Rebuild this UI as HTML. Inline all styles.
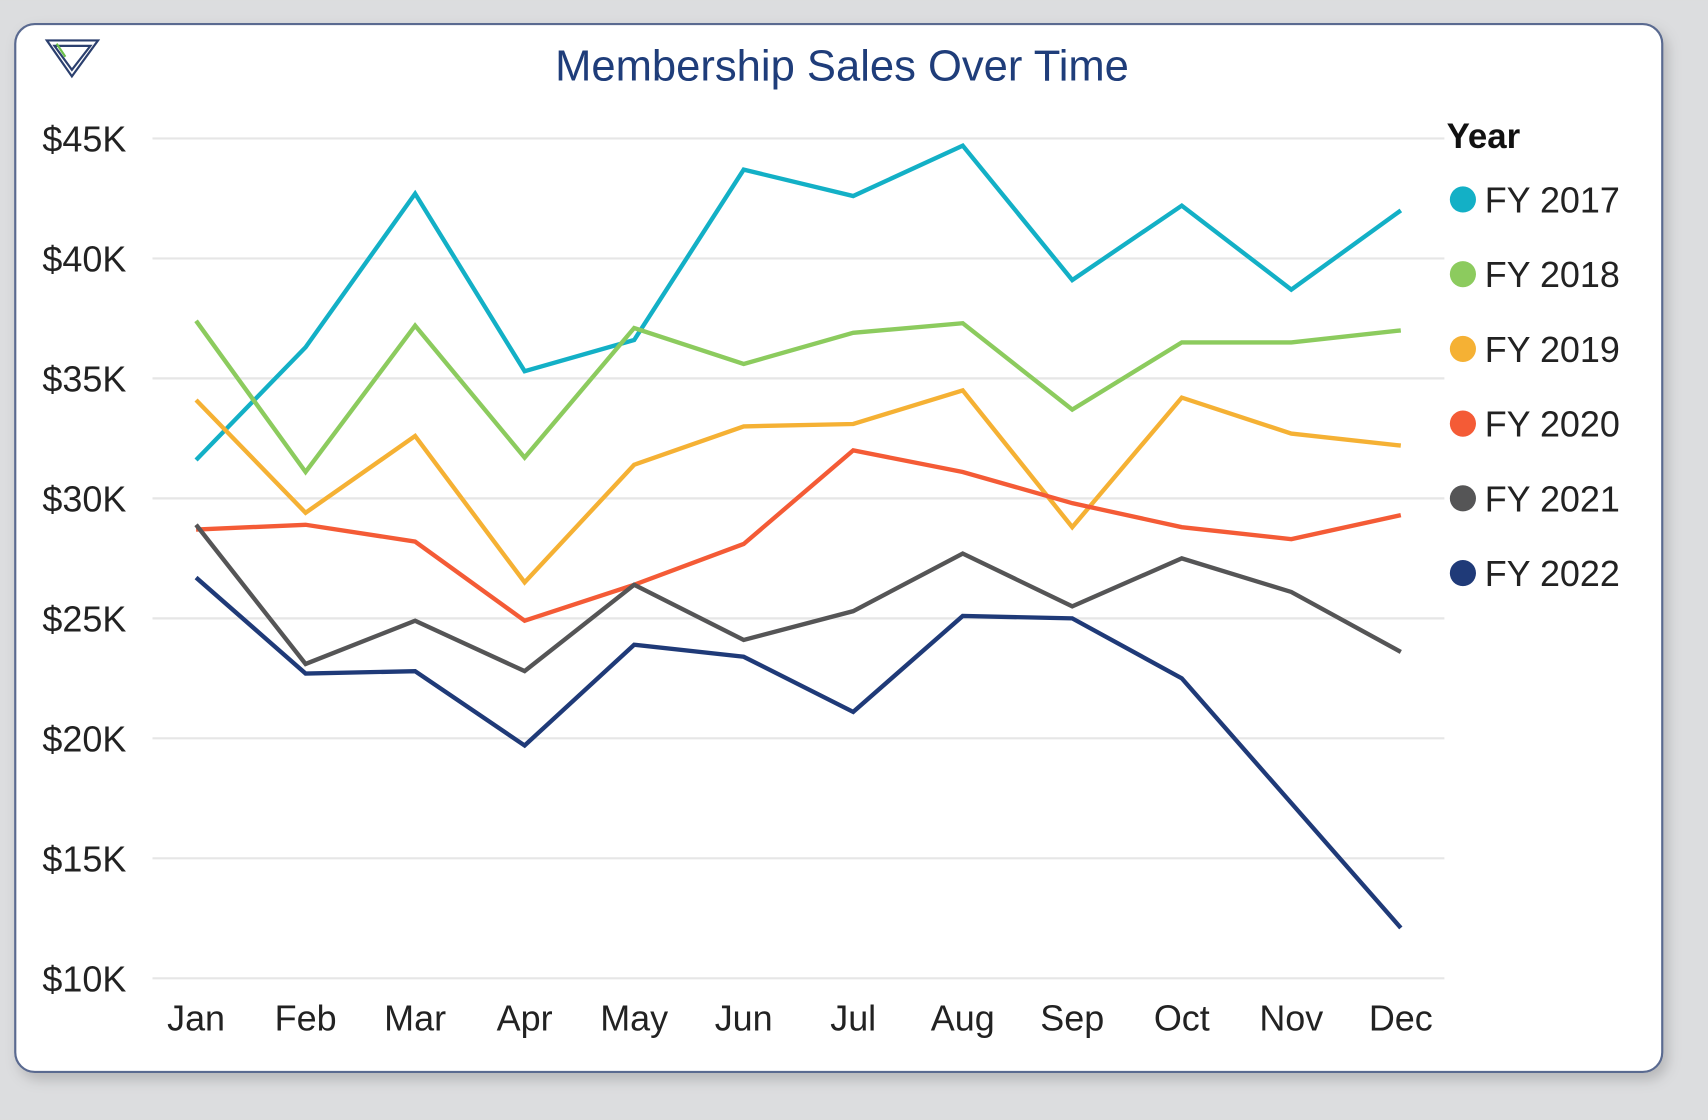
<!DOCTYPE html>
<html><head><meta charset="utf-8"><style>
html,body{margin:0;padding:0;background:#dcdddf;width:1708px;height:1120px;overflow:hidden}
svg{display:block;font-family:"Liberation Sans",sans-serif}
</style></head><body>
<svg id="chart" width="1708" height="1120" viewBox="0 0 1568 1028">
<defs><filter id="sh" x="-5%" y="-5%" width="110%" height="115%"><feDropShadow dx="4" dy="6" stdDeviation="6" flood-color="#000" flood-opacity="0.18"/></filter></defs>
<rect x="0" y="0" width="1568" height="1028" fill="#dcdddf"/>
<rect x="14" y="22" width="1512" height="962" rx="18" fill="#fff" stroke="#5a6a90" stroke-width="2" filter="url(#sh)"/>
<g fill="none" stroke="#2b3f6e" stroke-width="2">
<polygon points="43,37 90,37 66,70"/><polygon points="50,42 83,42 66,64"/><path d="M52,40 L60,52" stroke="#6cc04a"/>
</g>
<text x="773" y="74" text-anchor="middle" font-size="40" fill="#1f3d7a">Membership Sales Over Time</text>
<g id="grid"></g><g id="lines"></g><g id="legend"></g>
</svg>
<script>
const months=["Jan","Feb","Mar","Apr","May","Jun","Jul","Aug","Sep","Oct","Nov","Dec"];
const yTicks=[10,15,20,25,30,35,40,45];
const seriesNames=["FY 2017","FY 2018","FY 2019","FY 2020","FY 2021","FY 2022"];
const fy2017=[31.6,36.3,42.7,35.3,36.6,43.7,42.6,44.7,39.1,42.2,38.7,42.0];
const fy2018=[37.4,31.1,37.2,31.7,37.1,35.6,36.9,37.3,33.7,36.5,36.5,37.0];
const fy2019=[34.1,29.4,32.6,26.5,31.4,33.0,33.1,34.5,28.8,34.2,32.7,32.2];
const fy2020=[28.7,28.9,28.2,24.9,26.4,28.1,32.0,31.1,29.8,28.8,28.3,29.3];
const fy2021=[28.9,23.1,24.9,22.8,26.4,24.1,25.3,27.7,25.5,27.5,26.1,23.6];
const fy2022=[26.7,22.7,22.8,19.7,23.9,23.4,21.1,25.1,25.0,22.5,17.3,12.1];
const seriesData=[fy2017,fy2018,fy2019,fy2020,fy2021,fy2022];
const colors=["#13b0c6","#8ccb5e","#f5b134","#f45b36","#555556","#1f3a78"];
const NS="http://www.w3.org/2000/svg";
const x=i=>180+i*(1286-180)/(months.length-1);
const y=v=>127+(45-v)*(898-127)/35;
function mk(t,a,p){const e=document.createElementNS(NS,t);for(const k in a)e.setAttribute(k,a[k]);p.appendChild(e);return e;}
const grid=document.getElementById('grid');
yTicks.forEach(v=>{
 const l=mk('line',{x1:140,x2:1326,y1:y(v),y2:y(v),stroke:'#e6e6e6','stroke-width':2},grid);
 
 
 const t=mk('text',{x:116,y:y(v)+12,'text-anchor':'end','font-size':33,fill:'#222'},grid);
 t.textContent='$'+v+'K';
 
 
});
months.forEach((m,i)=>{
 const t=mk('text',{x:x(i),y:946,'text-anchor':'middle','font-size':33,fill:'#222'},grid);
 t.textContent=m;
 
 
});
const lines=document.getElementById('lines');
seriesData.forEach((d,s)=>{
 const p=mk('polyline',{points:d.map((v,i)=>x(i)+','+y(v)).join(' '),fill:'none',stroke:colors[s],'stroke-width':4,'stroke-linejoin':'miter'},lines);
 
 
});
const lg=document.getElementById('legend');
const lt=mk('text',{x:1328,y:136,'font-size':32,'font-weight':'bold',fill:'#111'},lg);
lt.textContent='Year';


seriesNames.forEach((n,s)=>{
 const cy=183+s*68.6;
 const g=mk('g',{},lg);
 
 
 mk('circle',{cx:1343,cy:cy,r:12,fill:colors[s]},g);
 const t=mk('text',{x:1363,y:cy+12,'font-size':33,fill:'#222'},g);
 t.textContent=n;
});
</script>
</body></html>
